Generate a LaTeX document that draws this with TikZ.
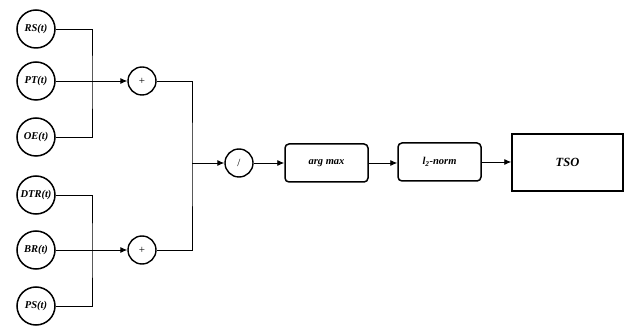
\documentclass[tikz,border=0pt]{standalone}
\usepackage{fontspec}
\setmainfont{Liberation Serif}
\usetikzlibrary{arrows.meta}
\begin{document}
\begin{tikzpicture}[x=1pt,y=-1pt,
  every node/.style={font=\bfseries\itshape},
  signal/.style={circle,draw,line width=1.5pt,minimum size=38pt,inner sep=0pt,font=\bfseries\itshape\fontsize{10.5}{12}\selectfont},
  op/.style={circle,draw,line width=1.4pt,minimum size=28pt,inner sep=0pt,font=\fontsize{11}{12}\selectfont},
  block/.style={draw,rounded corners=4pt,line width=1.5pt,minimum width=83pt,minimum height=38pt,inner sep=0pt,font=\bfseries\itshape\fontsize{10.5}{12}\selectfont},
  outblock/.style={draw,line width=1.5pt,minimum width=111pt,minimum height=57pt,inner sep=0pt,font=\bfseries\itshape\fontsize{12.5}{14}\selectfont},
  wire/.style={line width=0.9pt},
  flow/.style={line width=0.9pt,-{Latex[length=7pt,width=6pt]}}
]
\useasboundingbox (0,0) rectangle (628,328);

% input signals
\node[signal] (rs)  at (36,29)  {RS(t)};
\node[signal] (pt)  at (36,81)  {PT(t)};
\node[signal] (oe)  at (36,137) {OE(t)};
\node[signal] (dtr) at (36,195) {DTR(t)};
\node[signal] (br)  at (36,250) {BR(t)};
\node[signal] (ps)  at (36,306) {PS(t)};

% operators
\node[op] (sum1) at (142,81)  {+};
\node[op] (sum2) at (142,250) {+};
\node[op] (div)  at (239,163) {/};

% processing blocks
\node[block] (argmax) at (326.5,163) {arg max};
\node[block] (norm)   at (439.5,162) {\textit{l}\textsubscript{2}-norm};
\node[outblock] (tso) at (567.5,162.5) {TSO};

% junction points
\coordinate (j1) at (92,81);
\coordinate (j2) at (92,250);
\coordinate (m)  at (192,163);

% first sum
\draw[wire] (rs.east) -| (j1) |- (oe.east);
\draw[flow] (pt.east) -- (sum1.west);

% second sum
\draw[wire] (dtr.east) -| (j2) |- (ps.east);
\draw[flow] (br.east) -- (sum2.west);

% merge into the divider
\draw[wire] (sum1.east) -| (m) |- (sum2.east);
\draw[flow] (m) -- (div.west);

% output chain
\draw[flow] (div.east) -- (argmax.west);
\draw[flow] (argmax.east) -- (norm.west |- argmax.east);
\draw[flow] (norm.east) -- (tso.west |- norm.east);
\end{tikzpicture}
\end{document}
